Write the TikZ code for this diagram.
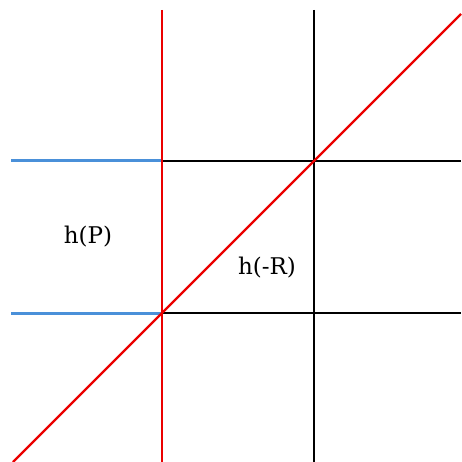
\documentclass[tikz,border=0pt]{standalone}
\usepackage{fontspec}
\setmainfont{DejaVu Serif}
\usepackage{xcolor}
\definecolor{hblue}{RGB}{74,144,217}
\definecolor{hred}{RGB}{235,0,0}
\tikzset{
  gridline/.style={black,line width=2.2pt},
  redline/.style={hred,line width=2.2pt},
  blueline/.style={hblue,line width=3pt},
  lbl/.style={font=\fontsize{23}{27}\selectfont}
}
\begin{document}
\begin{tikzpicture}[x=1pt,y=-1pt]
  \useasboundingbox (0,0) rectangle (461,462);
  % corners of the square
  \coordinate (a) at (162,313);
  \coordinate (b) at (314,161);
  \coordinate (rtop) at (162,10);
  \coordinate (rbot) at (162,462);
  \coordinate (ktop) at (314,10);
  \coordinate (kbot) at (314,462);
  \coordinate (pl1) at (11,161);
  \coordinate (pl2) at (11,313);
  \coordinate (e1) at (461,161);
  \coordinate (e2) at (461,313);
  \coordinate (d1) at (13,462);
  \coordinate (d2) at (461,14);
  % horizontals
  \draw[gridline] (rtop |- b) -- (e1);
  \draw[gridline] (a) -- (e2);
  \draw[blueline] (pl1) -- (rtop |- b);
  \draw[blueline] (pl2) -- (a);
  % verticals
  \draw[gridline] (ktop) -- (kbot);
  \draw[redline] (rtop) -- (rbot);
  \draw[redline] (d1) -- (d2);
  \node[lbl] (hp) at (88,237) {h(P)};
  \node[lbl] (hr) at (267,268) {h(-R)};
\end{tikzpicture}
\end{document}
